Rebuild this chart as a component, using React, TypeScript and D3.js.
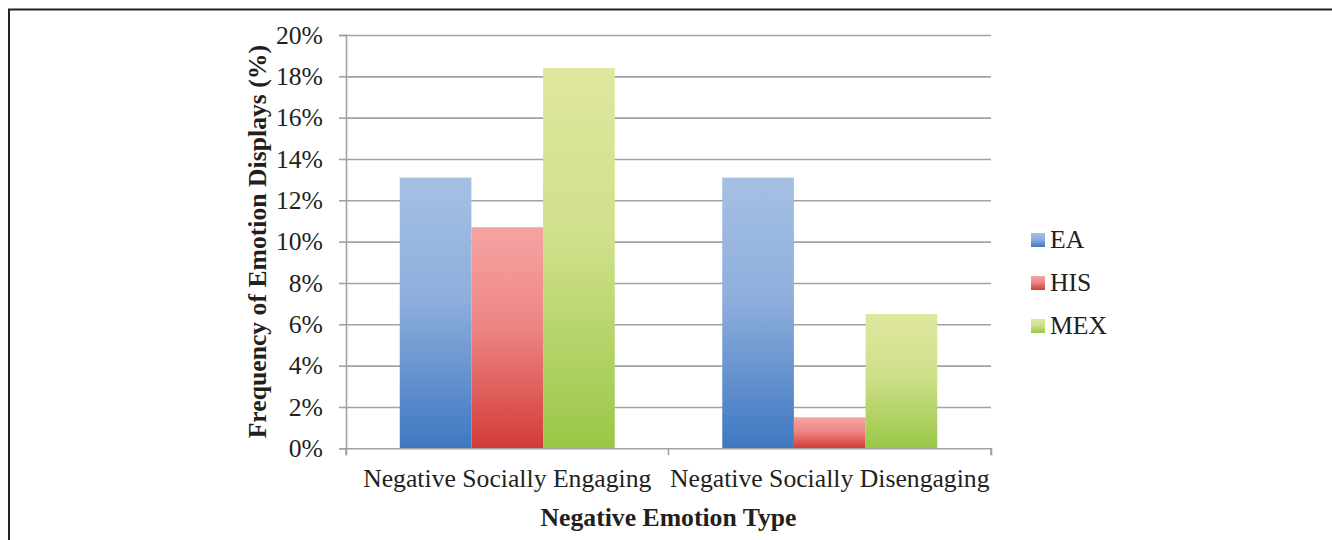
import { useEffect, useRef } from 'react'
import * as d3 from 'd3'

const categories = ['Negative Socially Engaging', 'Negative Socially Disengaging']
const seriesNames = ['EA', 'HIS', 'MEX']
const eaValues = [13.1, 13.1]
const hisValues = [10.7, 1.5]
const mexValues = [18.4, 6.5]
const yTicks = [0, 2, 4, 6, 8, 10, 12, 14, 16, 18, 20]

const gradients = [
  { id: 'g-ea', top: '#a5c0e4', mid: '#8eaedc', bottom: '#3e78c2' },
  { id: 'g-his', top: '#f7a3a3', mid: '#ee8585', bottom: '#d23c37' },
  { id: 'g-mex', top: '#dfe79f', mid: '#cfe08a', bottom: '#9ac747' },
]

const width = 1332
const height = 540
const FONT = '"Liberation Serif", "Times New Roman", serif'
const FS = 25.7

function App() {
  const ref = useRef<SVGSVGElement>(null)

  useEffect(() => {
    drawChart()
  }, [])

  const drawChart = () => {
    const svg = d3.select(ref.current)
    svg.selectAll('*').remove()

    const defs = svg.append('defs')
    gradients.forEach((g) => {
      const lg = defs
        .append('linearGradient')
        .attr('id', g.id)
        .attr('x1', 0)
        .attr('y1', 0)
        .attr('x2', 0)
        .attr('y2', 1)
      lg.append('stop').attr('offset', '0%').attr('stop-color', g.top)
      lg.append('stop').attr('offset', '45%').attr('stop-color', g.mid)
      lg.append('stop').attr('offset', '100%').attr('stop-color', g.bottom)
    })

    // outer frame
    svg
      .append('rect')
      .attr('x', 9)
      .attr('y', 9.5)
      .attr('width', 1400)
      .attr('height', 700)
      .attr('fill', 'none')
      .attr('stroke', '#222')
      .attr('stroke-width', 2)

    const left = 346
    const right = 991
    const top = 35
    const bottom = 448.3

    const x0 = d3.scaleBand().domain(categories).range([left, right]).padding(0)
    const x1 = d3
      .scaleBand()
      .domain(seriesNames)
      .range([0, x0.bandwidth()])
      .paddingInner(0)
      .paddingOuter(0.75)
    const y = d3.scaleLinear().domain([0, 20]).range([bottom, top])

    // gridlines
    svg
      .append('g')
      .attr('transform', `translate(${left},0)`)
      .call(
        d3
          .axisLeft(y)
          .tickValues(yTicks.slice(1))
          .tickSize(-(right - left))
          .tickFormat('' as any)
      )
      .call((g) => g.select('.domain').remove())
      .call((g) =>
        g.selectAll('line').attr('stroke', '#a2a2a2').attr('stroke-width', 1.6)
      )

    // bars
    const series = [eaValues, hisValues, mexValues]
    series.forEach((vals, si) => {
      svg
        .append('g')
        .selectAll('rect')
        .data(categories)
        .join('rect')
        .attr('x', (c) => (x0(c) as number) + (x1(seriesNames[si]) as number))
        .attr('y', (c, i) => y(vals[i]))
        .attr('width', x1.bandwidth())
        .attr('height', (c, i) => bottom - y(vals[i]))
        .attr('fill', `url(#${gradients[si].id})`)
    })

    // y axis
    const yAxis = svg
      .append('g')
      .attr('transform', `translate(${left},0)`)
      .call(
        d3
          .axisLeft(y)
          .tickValues(yTicks)
          .tickSize(7)
          .tickPadding(16)
          .tickFormat((d) => `${d}%`)
      )
    yAxis.selectAll('line').attr('stroke', '#a2a2a2').attr('stroke-width', 1.6)
    yAxis.select('.domain').attr('stroke', '#a2a2a2').attr('stroke-width', 1.6)
    yAxis
      .selectAll('text')
      .attr('font-family', FONT)
      .attr('font-size', FS)
      .attr('fill', '#231f20')

    // x axis
    const xAxis = svg
      .append('g')
      .attr('transform', `translate(0,${bottom})`)
      .call(d3.axisBottom(x0).tickSize(0).tickPadding(20).tickSizeOuter(7))
    xAxis.select('.domain').attr('stroke', '#a2a2a2').attr('stroke-width', 1.6)
    xAxis
      .selectAll('text')
      .attr('font-family', FONT)
      .attr('font-size', FS)
      .attr('fill', '#231f20')
    // category separators
    xAxis
      .append('g')
      .selectAll('line')
      .data([left, x0(categories[1]) as number, right])
      .join('line')
      .attr('x1', (d) => d)
      .attr('x2', (d) => d)
      .attr('y1', 0)
      .attr('y2', 7)
      .attr('stroke', '#a2a2a2')
      .attr('stroke-width', 1.6)

    // axis titles
    svg
      .append('text')
      .attr('x', (left + right) / 2)
      .attr('y', 526)
      .attr('text-anchor', 'middle')
      .attr('font-family', FONT)
      .attr('font-weight', 'bold')
      .attr('font-size', FS)
      .attr('fill', '#231f20')
      .text('Negative Emotion Type')
    svg
      .append('text')
      .attr('transform', `translate(266,${(top + bottom) / 2}) rotate(-90)`)
      .attr('text-anchor', 'middle')
      .attr('font-family', FONT)
      .attr('font-weight', 'bold')
      .attr('font-size', FS)
      .attr('fill', '#231f20')
      .text('Frequency of Emotion Displays (%)')

    // legend
    const legend = svg
      .append('g')
      .selectAll('g')
      .data(seriesNames)
      .join('g')
      .attr('transform', (d, i) => `translate(1031,${233 + i * 43})`)
    legend
      .append('rect')
      .attr('width', 14)
      .attr('height', 14)
      .attr('fill', (d, i) => `url(#${gradients[i].id})`)
    legend
      .append('text')
      .attr('x', 19)
      .attr('y', 15)
      .attr('font-family', FONT)
      .attr('font-size', FS)
      .attr('fill', '#231f20')
      .text((d) => d)
  }

  return (
    <svg
      ref={ref}
      width={width}
      height={height}
      style={{ position: 'absolute', left: 0, top: 0, background: '#fff' }}
    />
  )
}

export default App
